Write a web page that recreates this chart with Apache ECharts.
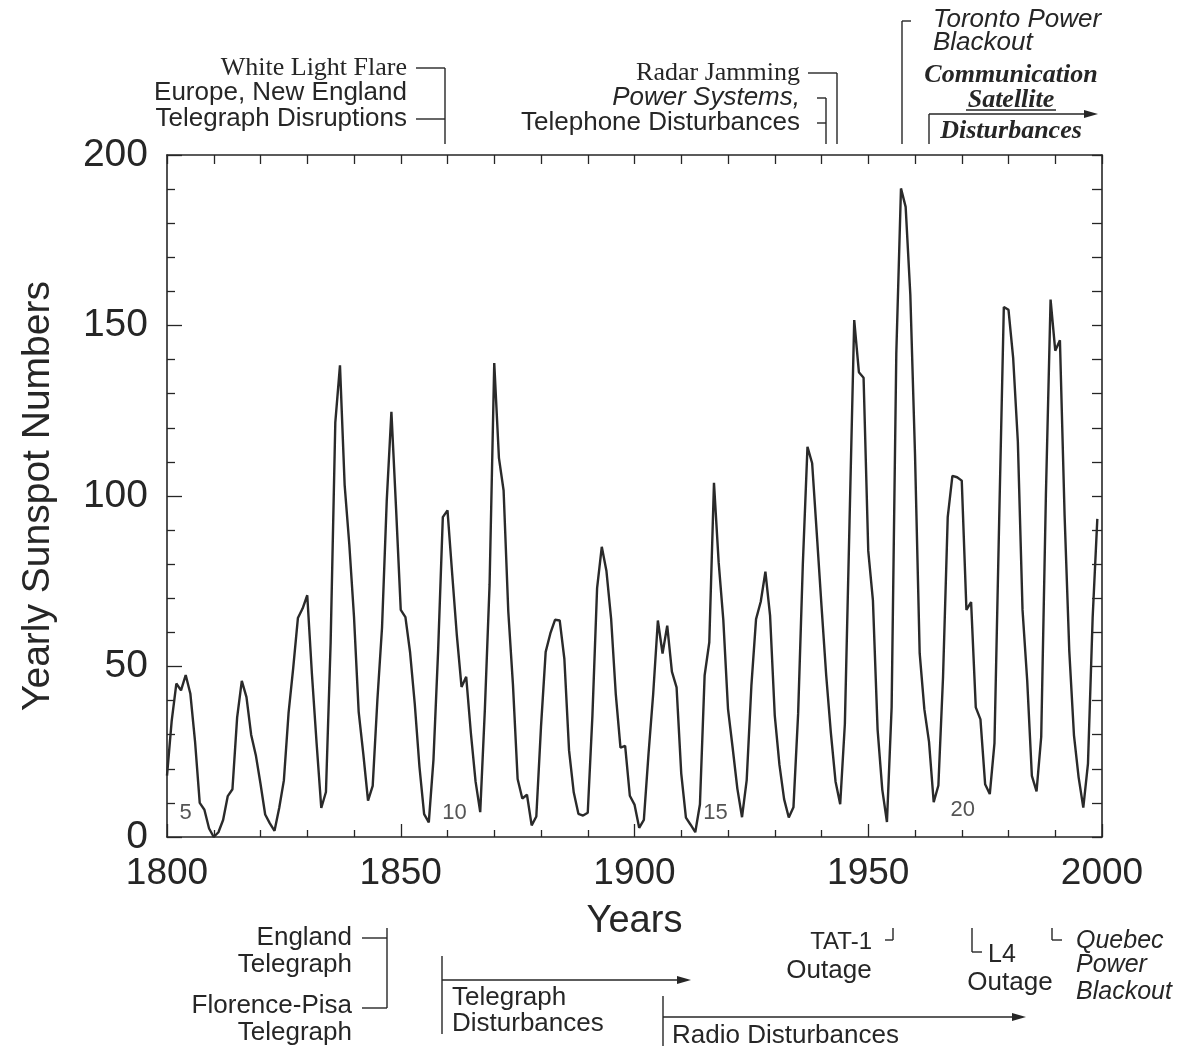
<!DOCTYPE html>
<html>
<head>
<meta charset="utf-8">
<title>Yearly Sunspot Numbers</title>
<script src="https://cdn.jsdelivr.net/npm/echarts@6/dist/echarts.min.js"></script>
<style>
  html, body { margin: 0; padding: 0; background: #fff; }
  #chart { width: 1190px; height: 1046px; }
</style>
</head>
<body>
<div id="chart"></div>
<script>
// yearly sunspot numbers, one row per decade (1800 .. 1999)
var firstYear = 1800;
var sunspots = [
  18, 34, 45, 43, 47.5, 42, 28, 10, 8, 2.5,            // 1800
  0, 1.4, 5, 12, 14, 35, 45.8, 41, 30, 24,             // 1810
  15.6, 6.6, 4, 1.8, 8.5, 16.6, 36.3, 49.6, 64.2, 67,  // 1820
  70.9, 47.8, 27.5, 8.5, 13.2, 56.9, 121.5, 138.3, 103.2, 85.7, // 1830
  64.6, 36.7, 24.2, 10.7, 15, 40.1, 61.5, 98.5, 124.7, 96.3,    // 1840
  66.6, 64.5, 54.1, 39, 20.6, 6.7, 4.3, 22.7, 54.8, 93.8,       // 1850
  95.8, 77.2, 59.1, 44, 47, 30.5, 16.3, 7.3, 37.6, 74,          // 1860
  139, 111.2, 101.6, 66.2, 44.7, 17, 11.3, 12.4, 3.4, 6,        // 1870
  32.3, 54.3, 59.7, 63.7, 63.5, 52.2, 25.4, 13.1, 6.8, 6.3,     // 1880
  7.1, 35.6, 73, 85.1, 78, 64, 41.8, 26.2, 26.7, 12.1,          // 1890
  9.5, 2.7, 5, 24.4, 42, 63.5, 53.8, 62, 48.5, 43.9,            // 1900
  18.6, 5.7, 3.6, 1.4, 9.6, 47.4, 57.1, 103.9, 80.6, 63.6,      // 1910
  37.6, 26.1, 14.2, 5.8, 16.7, 44.3, 63.9, 69, 77.8, 64.9,      // 1920
  35.7, 21.2, 11.1, 5.7, 8.7, 36.1, 79.7, 114.4, 109.6, 88.8,   // 1930
  67.8, 47.5, 30.6, 16.3, 9.6, 33.2, 92.6, 151.6, 136.3, 134.7, // 1940
  83.9, 69.4, 31.5, 13.9, 4.4, 38, 141.7, 190.2, 184.8, 159,    // 1950
  112.3, 53.9, 37.5, 27.9, 10.2, 15.1, 47, 93.8, 105.9, 105.5,  // 1960
  104.5, 66.6, 68.9, 38, 34.5, 15.5, 12.6, 27.5, 92.5, 155.4,   // 1970
  154.6, 140.4, 115.9, 66.6, 45.9, 17.9, 13.4, 29.4, 100.2, 157.6, // 1980
  142.6, 145.7, 94.3, 54.6, 29.9, 17.5, 8.6, 21.5, 64.3, 93.3   // 1990
];
// solar cycle numbers written near the minima: [label, year, value]
var cycleLabels = [['5', 1804, 7], ['10', 1861.5, 7], ['15', 1917.3, 7], ['20', 1970.2, 8]];

var SANS = '"Liberation Sans", Arial, sans-serif';
var SERIF = '"Liberation Serif", "Times New Roman", serif';
var INK = '#262626';

var points = [];
for (var i = 0; i < sunspots.length; i++) {
  points.push([firstYear + i, sunspots[i]]);
}

var chart = echarts.init(document.getElementById('chart'), null, { renderer: 'canvas' });

function frameX(pos, withLabels) {
  return {
    type: 'value', position: pos, min: 1800, max: 2000, interval: 50,
    axisLine: { show: true, onZero: false, lineStyle: { color: INK, width: 1.6 } },
    axisTick: { show: true, inside: true, length: withLabels ? 13 : 9, lineStyle: { color: INK, width: 1.3 } },
    minorTick: { show: true, splitNumber: 5, length: withLabels ? 7 : 9, lineStyle: { color: INK, width: 1.3 } },
    axisLabel: {
      show: withLabels, fontFamily: SANS, fontSize: 37, color: INK, margin: 18,
      formatter: function (v) { return String(v); }
    },
    splitLine: { show: false }
  };
}
function frameY(pos, withLabels) {
  return {
    type: 'value', position: pos, min: 0, max: 200, interval: 50,
    axisLine: { show: true, onZero: false, lineStyle: { color: INK, width: 1.6 } },
    axisTick: { show: true, inside: true, length: withLabels ? 15 : 10, lineStyle: { color: INK, width: 1.3 } },
    minorTick: { show: true, splitNumber: 5, length: withLabels ? 8 : 10, lineStyle: { color: INK, width: 1.3 } },
    axisLabel: { show: withLabels, fontFamily: SANS, fontSize: 39, color: INK, margin: 19 },
    splitLine: { show: false }
  };
}

var xBottom = frameX('bottom', true);
xBottom.name = 'Years';
xBottom.nameLocation = 'middle';
xBottom.nameGap = 66;
xBottom.nameTextStyle = { fontFamily: SANS, fontSize: 38, color: INK };
var yLeft = frameY('left', true);
yLeft.name = 'Yearly Sunspot Numbers';
yLeft.nameLocation = 'middle';
yLeft.nameGap = 109;
yLeft.nameTextStyle = { fontFamily: SANS, fontSize: 39, color: INK };

chart.setOption({
  animation: false,
  backgroundColor: '#fff',
  grid: { left: 167, right: 88, top: 155, bottom: 209 },
  xAxis: [xBottom, frameX('top', false)],
  yAxis: [yLeft, frameY('right', false)],
  series: [{
    type: 'line', xAxisIndex: 0, yAxisIndex: 0,
    data: points, showSymbol: false, smooth: false,
    lineStyle: { color: '#2a2a2a', width: 2.4 }
  }]
});

// annotations ----------------------------------------------------------
var g = [];
function txt(x, y, s, o) {
  o = o || {};
  g.push({
    type: 'text', x: x, y: y, silent: true,
    style: {
      text: s, fill: o.color || INK, font: (o.font || ('26px ' + SANS)),
      textAlign: o.align || 'left', textVerticalAlign: 'middle'
    }
  });
}
function seg(x1, y1, x2, y2) {
  g.push({ type: 'line', silent: true, shape: { x1: x1, y1: y1, x2: x2, y2: y2 },
    style: { stroke: INK, lineWidth: 1.4 } });
}
function arrow(x1, y, x2) {
  seg(x1, y, x2 - 10, y);
  g.push({ type: 'polygon', silent: true,
    shape: { points: [[x2, y], [x2 - 14, y - 4], [x2 - 14, y + 4]] },
    style: { fill: INK } });
}
function yearX(year) { return chart.convertToPixel({ xAxisIndex: 0 }, year); }
function valY(v) { return chart.convertToPixel({ yAxisIndex: 0 }, v); }

// top, left group
txt(407, 68, 'White Light Flare', { align: 'right', font: '26px ' + SERIF });
txt(407, 93, 'Europe, New England', { align: 'right' });
txt(407, 119, 'Telegraph Disruptions', { align: 'right' });
seg(416, 68, 445, 68); seg(445, 68, 445, 144); seg(416, 119, 445, 119);

// top, middle group
txt(800, 73, 'Radar Jamming', { align: 'right', font: '26px ' + SERIF });
txt(800, 98, 'Power Systems,', { align: 'right', font: 'italic 26px ' + SANS });
txt(800, 123, 'Telephone Disturbances', { align: 'right' });
seg(808, 73, 837, 73); seg(837, 73, 837, 144);
seg(817, 98, 826, 98); seg(826, 98, 826, 144); seg(817, 123, 826, 123);

// top, right group
seg(902, 21, 911, 21); seg(902, 21, 902, 144);
txt(933, 20, 'Toronto Power', { font: 'italic 26px ' + SANS });
txt(933, 43, 'Blackout', { font: 'italic 26px ' + SANS });
txt(1011, 75, 'Communication', { align: 'center', font: 'italic bold 26px ' + SERIF });
txt(1011, 100, 'Satellite', { align: 'center', font: 'italic bold 26px ' + SERIF });
seg(966, 110, 1056, 110);
arrow(929, 114, 1098);
seg(929, 114, 929, 144);
txt(1011, 131, 'Disturbances', { align: 'center', font: 'italic bold 26px ' + SERIF });

// bottom, left group
txt(352, 938, 'England', { align: 'right' });
txt(352, 965, 'Telegraph', { align: 'right' });
txt(352, 1006, 'Florence-Pisa', { align: 'right' });
txt(352, 1033, 'Telegraph', { align: 'right' });
seg(362, 938, 387, 938); seg(387, 928, 387, 1008); seg(362, 1008, 387, 1008);

seg(442, 956, 442, 1034);
arrow(442, 980, 691);
txt(452, 998, 'Telegraph');
txt(452, 1024, 'Disturbances');

seg(663, 996, 663, 1046);
arrow(663, 1017, 1026);
txt(672, 1036, 'Radio Disturbances');

// bottom, right group
txt(872, 942, 'TAT-1', { align: 'right', font: '24px ' + SANS });
txt(829, 971, 'Outage', { align: 'center' });
seg(893, 928, 893, 940); seg(885, 940, 893, 940);
seg(972, 928, 972, 952); seg(972, 952, 982, 952);
txt(988, 955, 'L4', { font: '25px ' + SANS });
txt(1010, 983, 'Outage', { align: 'center' });
seg(1052, 928, 1052, 940); seg(1052, 940, 1062, 940);
txt(1076, 941, 'Quebec', { font: 'italic 25px ' + SANS });
txt(1076, 965, 'Power', { font: 'italic 25px ' + SANS });
txt(1076, 992, 'Blackout', { font: 'italic 25px ' + SANS });

// cycle numbers inside the frame
cycleLabels.forEach(function (c) {
  txt(yearX(c[1]), valY(c[2]), c[0], { align: 'center', font: '22px ' + SANS, color: '#555' });
});

chart.setOption({ graphic: g });
</script>
</body>
</html>
